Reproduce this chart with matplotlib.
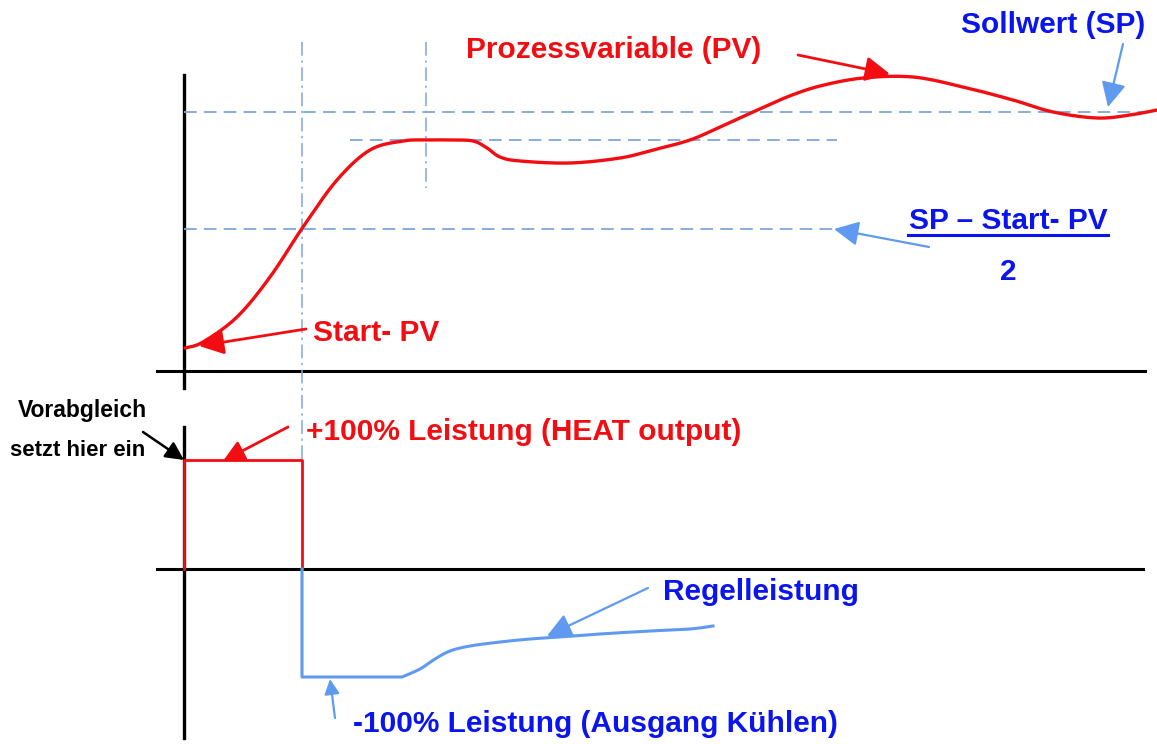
import numpy as np
import matplotlib.pyplot as plt

plt.rcParams['font.family'] = ['Liberation Sans', 'DejaVu Sans']

RED = '#f20d12'
BLUE = '#0a14ee'
LBLUE = '#5f9af0'
DASH = '#7fa6dc'

# process variable (x, y) in drawing units
pv_x = [185, 203, 237, 270, 303, 337, 370, 403, 426, 450, 473, 487, 500, 520,
        570, 620, 653, 690, 720, 753, 787, 820, 863, 913, 963, 1013, 1053,
        1097, 1130, 1157]
pv_y = [348, 342, 317, 277, 227, 180, 150, 141, 140, 140, 141, 148, 157, 161,
        163, 158, 150, 140, 127, 112, 97, 86, 78, 77, 87, 100, 112,
        118, 115, 110]

# heater output (+100 %) and cooling output (-100 % then regulation)
heat_x = [184, 184, 302, 302]
heat_y = [569, 460, 460, 569]
cool_x = [402, 420, 435, 450, 470, 500, 530, 560, 600, 650, 690, 713]
cool_y = [677, 669, 659, 651, 646, 642, 639, 637, 634, 631, 629, 626]


def smooth(x, y, n=20):
    # Catmull-Rom spline through the points
    p = np.column_stack([x, y]).astype(float)
    p = np.vstack([p[0], p, p[-1]])
    t = np.linspace(0, 1, n, endpoint=False)[:, None]
    out = []
    for i in range(1, len(p) - 2):
        p0, p1, p2, p3 = p[i - 1], p[i], p[i + 1], p[i + 2]
        out.append(0.5 * (2 * p1 + (-p0 + p2) * t
                          + (2 * p0 - 5 * p1 + 4 * p2 - p3) * t ** 2
                          + (-p0 + 3 * p1 - 3 * p2 + p3) * t ** 3))
    out.append(p[-2][None, :])
    out = np.vstack(out)
    return out[:, 0], out[:, 1]


fig = plt.figure(figsize=(11.57, 7.44), dpi=100)
ax = fig.add_axes([0, 0, 1, 1])
ax.set_xlim(0, 1157)
ax.set_ylim(744, 0)
ax.axis('off')

# axes
ax.plot([184, 184], [75, 388], color='black', lw=2.4)
ax.plot([157, 1145], [371, 371], color='black', lw=2.2)
ax.plot([184, 184], [427, 738], color='black', lw=2.4)
ax.plot([157, 1143], [569, 569], color='black', lw=2.2)

# guide lines
dashed = dict(color=DASH, lw=1.3, ls=(0, (7, 4)))
ax.plot([184, 1157], [112, 112], **dashed)
ax.plot([350, 837], [140, 140], **dashed)
ax.plot([184, 834], [229, 229], **dashed)
dashdot = dict(color=DASH, lw=1.1, ls=(0, (9, 3, 1.5, 3)))
ax.plot([302, 302], [42, 460], **dashdot)
ax.plot([426, 426], [42, 188], **dashdot)

# signals
sx, sy = smooth(pv_x, pv_y)
ax.plot(sx, sy, color=RED, lw=2.4, solid_capstyle='round')
ax.plot(heat_x, heat_y, color=RED, lw=2.0)
cx, cy = smooth(cool_x, cool_y)
ax.plot(np.r_[302, 302, cx], np.r_[569, 677, cy], color=LBLUE, lw=2.2)


def arrow(tail, head, color, lw=2.0, scale=30):
    ax.annotate('', xy=head, xytext=tail,
                arrowprops=dict(arrowstyle='-|>,head_length=0.5,head_width=0.25',
                                color=color, lw=lw, mutation_scale=scale,
                                shrinkA=0, shrinkB=0))


fs = 21.5
ax.text(614, 50, 'Prozessvariable (PV)', color=RED, fontsize=fs,
        fontweight='bold', ha='center', va='center')
arrow((798, 55), (890, 74), RED)

ax.text(1053, 25, 'Sollwert (SP)', color=BLUE, fontsize=fs,
        fontweight='bold', ha='center', va='center')
arrow((1123, 44), (1108, 107), LBLUE, 1.6)

ax.text(1008, 221, 'SP – Start- PV', color=BLUE, fontsize=fs,
        fontweight='bold', ha='center', va='center')
ax.plot([908, 1108], [235, 235], color=BLUE, lw=2.2)
ax.text(1008, 272, '2', color=BLUE, fontsize=fs, fontweight='bold',
        ha='center', va='center')
arrow((929, 247), (834, 229), LBLUE, 1.6)

ax.text(313, 333, 'Start- PV', color=RED, fontsize=fs, fontweight='bold',
        ha='left', va='center')
arrow((306, 329), (199, 346), RED)

ax.text(82, 411, 'Vorabgleich', color='black', fontsize=16.5,
        fontweight='bold', ha='center', va='center')
ax.text(78, 451, 'setzt hier ein', color='black', fontsize=16,
        fontweight='bold', ha='center', va='center')
arrow((143, 432), (184, 460), 'black', 1.8, 22)

ax.text(306, 432, '+100% Leistung (HEAT output)', color=RED, fontsize=fs,
        fontweight='bold', ha='left', va='center')
arrow((288, 427), (223, 461), RED, 2.0, 26)

ax.text(663, 592, 'Regelleistung', color=BLUE, fontsize=fs,
        fontweight='bold', ha='left', va='center')
arrow((648, 588), (547, 636), LBLUE, 1.6)

ax.text(353, 724, '-100% Leistung (Ausgang Kühlen)', color=BLUE, fontsize=fs,
        fontweight='bold', ha='left', va='center')
arrow((335, 718), (330, 679), LBLUE, 1.6, 18)

fig.savefig('out.png', dpi=100)
